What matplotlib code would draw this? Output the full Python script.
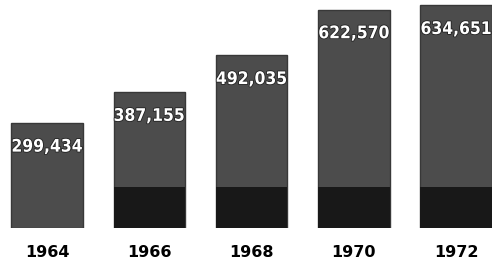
import matplotlib.pyplot as plt
import matplotlib.patheffects as pe

years = ["1964", "1966", "1968", "1970", "1972"]
values = [299434, 387155, 492035, 622570, 634651]
# bars that have the dark base block
has_base = [False, True, True, True, True]
base_height = 117000

fig = plt.figure(figsize=(4.92, 2.64), dpi=100)
ax = fig.add_axes([0, 0.136, 1, 0.864])

x = list(range(len(years)))
ax.bar(x, values, width=0.70, color="#4c4c4c", edgecolor="#383838", linewidth=1.0)
base_x = [i for i, b in zip(x, has_base) if b]
ax.bar(base_x, [base_height] * len(base_x), width=0.70, color="#181818", linewidth=0)

for i, v in zip(x, values):
    ax.annotate(f"{v:,}", (i, v), xytext=(0, -17), textcoords="offset points",
                ha="center", va="center", color="white", fontsize=12.5,
                fontweight="bold", fontstretch="condensed",
                path_effects=[pe.withStroke(linewidth=1.2, foreground="#222222")])

ax.set_xlim(-0.46, 4.35)
ax.set_ylim(0, 650000)
ax.set_xticks(x)
ax.set_xticklabels(years, fontsize=11.5, fontweight="bold")
ax.tick_params(axis="x", length=0, pad=12)
ax.set_yticks([])
for s in ax.spines.values():
    s.set_visible(False)

fig.savefig("out.png", dpi=100)
